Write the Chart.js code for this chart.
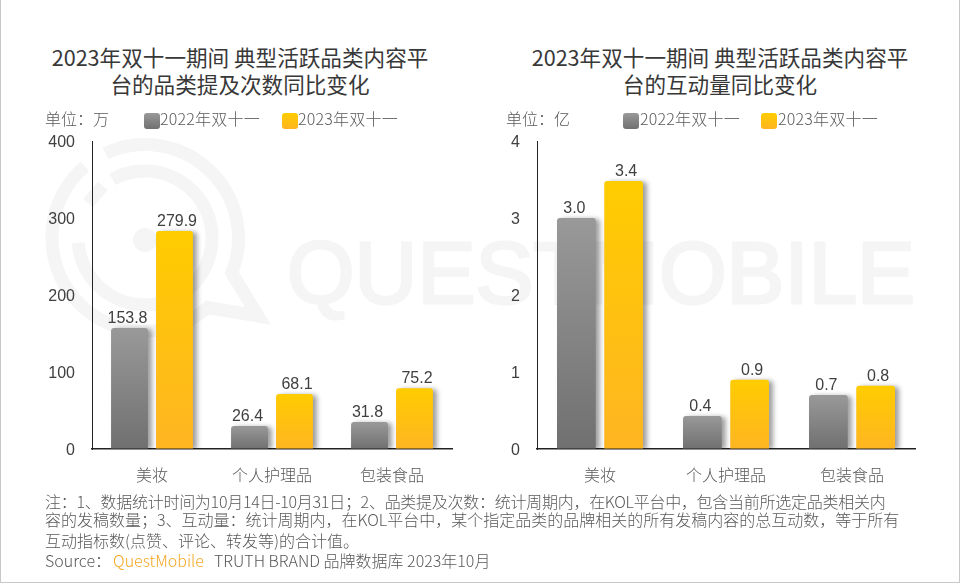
<!DOCTYPE html>
<html lang="zh">
<head>
<meta charset="utf-8">
<script src="https://cdn.jsdelivr.net/npm/chart.js@4"></script>
<style>
html,body{margin:0;padding:0;background:#fff;}
#page{position:relative;width:960px;height:585px;overflow:hidden;background:#fff;font-family:"Noto Sans CJK SC","Noto Sans",sans-serif;color:#595959;}
#frame{position:absolute;left:0;top:-2px;width:958px;height:584px;border:1px solid #c8c8c8;border-top:none;}
#wm{position:absolute;left:0;top:0;}
canvas{position:absolute;top:120px;}
.title{position:absolute;top:43px;width:440px;text-align:center;font-size:21.6px;line-height:27px;color:#383838;}
.unit,.leg{position:absolute;top:107px;font-size:16px;line-height:22px;white-space:nowrap;font-weight:300;}
.leg{letter-spacing:.2px;}
.sw{position:absolute;top:113px;width:16px;height:16px;border-radius:3px;}
.grey{background:linear-gradient(#999,#707070);}
.gold{background:linear-gradient(#ffcc00,#ffb522);}
.note{position:absolute;left:45px;font-size:16px;line-height:20px;white-space:nowrap;color:#595959;font-weight:300;}
.qm{color:#f5a623;margin:0 10px 0 2px;}
</style>
</head>
<body>
<div id="page">
<svg id="wm" width="960" height="585" fill="none" stroke="#f5f5f5" stroke-width="13">
  <path d="M105.5 153.3 A93.5 93.5 0 0 1 231.7 273 L258 316 L207.6 307.5 A93.5 93.5 0 1 1 84.9 166.4" stroke-linejoin="miter"/>
  <path d="M112.5 179.4 A67 67 0 1 1 78.2 242.7"/>
  <path d="M88 203 L103 186"/>
  <circle cx="145" cy="240" r="12" fill="#f5f5f5" stroke="none"/>
  <text x="287" y="303" font-family="Liberation Sans" font-size="87" fill="#f5f5f5" stroke="#f5f5f5" stroke-width="3" textLength="628" lengthAdjust="spacingAndGlyphs">QUESTMOBILE</text>
</svg>
<div id="frame"></div>
<canvas id="c1" style="left:0"></canvas>
<canvas id="c2" style="left:480px"></canvas>

<div class="title" style="left:20px">2023年双十一期间 典型活跃品类内容平<br>台的品类提及次数同比变化</div>
<div class="title" style="left:500px">2023年双十一期间 典型活跃品类内容平<br>台的互动量同比变化</div>

<div class="unit" style="left:45px">单位：万</div>
<div class="sw grey" style="left:144px"></div><div class="leg" style="left:160px">2022年双十一</div>
<div class="sw gold" style="left:282px"></div><div class="leg" style="left:298px">2023年双十一</div>

<div class="unit" style="left:506px">单位：亿</div>
<div class="sw grey" style="left:623px"></div><div class="leg" style="left:640px">2022年双十一</div>
<div class="sw gold" style="left:761px"></div><div class="leg" style="left:778px">2023年双十一</div>

<div class="note" style="top:491px;letter-spacing:-.27px">注：1、数据统计时间为10月14日-10月31日；2、品类提及次数：统计周期内，在KOL平台中，包含当前所选定品类相关内</div>
<div class="note" style="top:509px">容的发稿数量；3、互动量：统计周期内，在KOL平台中，某个指定品类的品牌相关的所有发稿内容的总互动数，等于所有</div>
<div class="note" style="top:530px">互动指标数(点赞、评论、转发等)的合计值。</div>
<div class="note" style="top:550px">Source：<span class="qm">QuestMobile</span>TRUTH BRAND 品牌数据库 2023年10月</div>
</div>

<script>
const categories = ['美妆', '个人护理品', '包装食品'];
const seriesNames = ['2022年双十一', '2023年双十一'];

// Bar heights as read against each axis; printed labels as shown above the bars.
const mentions2022 = [157, 30, 35];
const mentions2023 = [283, 71.4, 79];
const mentions2022Labels = ['153.8', '26.4', '31.8'];
const mentions2023Labels = ['279.9', '68.1', '75.2'];

const interact2022 = [3.0, 0.43, 0.70];
const interact2023 = [3.48, 0.9, 0.82];
const interact2022Labels = ['3.0', '0.4', '0.7'];
const interact2023Labels = ['3.4', '0.9', '0.8'];

const mentionTicks = [0, 100, 200, 300, 400];
const interactTicks = [0, 1, 2, 3, 4];

const greyStops = ['#999999', '#707070'];
const goldStops = ['#ffcc00', '#ffb522'];

function gradient(stops) {
  return function (ctx) {
    const chart = ctx.chart, y = chart.scales.y;
    if (!y || ctx.raw === undefined || !chart.chartArea) return stops[0];
    const top = y.getPixelForValue(ctx.raw), bottom = y.getPixelForValue(0);
    const g = chart.ctx.createLinearGradient(0, top, 0, bottom);
    g.addColorStop(0, stops[0]);
    g.addColorStop(1, stops[1]);
    return g;
  };
}

const barShadow = {
  id: 'barShadow',
  beforeDatasetDraw(chart) {
    const c = chart.ctx;
    c.save();
    c.shadowColor = 'rgba(0,0,0,0.38)';
    c.shadowBlur = 5;
    c.shadowOffsetX = 4;
    c.shadowOffsetY = 1;
  },
  afterDatasetDraw(chart) { chart.ctx.restore(); }
};

const valueLabels = {
  id: 'valueLabels',
  afterDatasetsDraw(chart, args, opts) {
    const c = chart.ctx;
    c.save();
    c.font = '16px "Liberation Sans"';
    c.fillStyle = '#404040';
    c.textAlign = 'center';
    c.textBaseline = 'alphabetic';
    chart.data.datasets.forEach((ds, i) => {
      chart.getDatasetMeta(i).data.forEach((bar, j) => {
        c.fillText(opts.labels[i][j], bar.x + opts.dx[i], bar.y - 5);
      });
    });
    c.restore();
  }
};

// Nudges the y tick labels down so they centre on their tick positions.
const tickNudge = {
  id: 'tickNudge',
  beforeDraw(chart) {
    const y = chart.scales.y;
    if (y.__nudged) return;
    y.__nudged = true;
    const draw = y.drawLabels;
    y.drawLabels = function (area) {
      const c = chart.ctx;
      c.save();
      c.translate(0, 1.5);
      draw.call(y, area);
      c.restore();
    };
  }
};

function makeChart(id, a, b, aLabels, bLabels, ticks, padLeft, padRight) {
  const el = document.getElementById(id);
  return new Chart(el, {
    type: 'bar',
    data: {
      labels: categories,
      datasets: [
        { label: seriesNames[0], data: a, backgroundColor: gradient(greyStops) },
        { label: seriesNames[1], data: b, backgroundColor: gradient(goldStops) }
      ]
    },
    plugins: [barShadow, valueLabels, tickNudge],
    options: {
      responsive: false,
      animation: false,
      devicePixelRatio: 1,
      layout: { padding: { left: 0, right: padRight, top: 21, bottom: 0 } },
      datasets: { bar: { categoryPercentage: 0.75, barPercentage: 0.82, borderRadius: { topLeft: 3, topRight: 3 }, borderSkipped: 'bottom' } },
      plugins: {
        legend: { display: false },
        tooltip: { enabled: false },
        valueLabels: { labels: [aLabels, bLabels], dx: [-2, 2.5] }
      },
      scales: {
        x: {
          afterFit(s) { s.height = 41; s.paddingLeft = 0; s.paddingRight = 0; },
          grid: { drawOnChartArea: false, drawTicks: false },
          border: { color: '#222', width: 1.5 },
          ticks: { padding: 16, color: '#595959', font: { size: 16, family: '"Noto Sans CJK SC"', weight: '300' }, maxRotation: 0 }
        },
        y: {
          min: ticks[0], max: ticks[ticks.length - 1],
          afterFit(s) { s.width = padLeft; s.paddingTop = 0; s.paddingBottom = 0; },
          afterBuildTicks(s) { s.ticks = ticks.map(v => ({ value: v })); },
          grid: { drawOnChartArea: false, drawTicks: false },
          border: { color: '#222', width: 1 },
          ticks: { padding: 17, color: '#404040', font: { size: 16, family: '"Liberation Sans"' } }
        }
      }
    }
  });
}

document.getElementById('c1').width = 480; document.getElementById('c1').height = 370;
document.getElementById('c2').width = 480; document.getElementById('c2').height = 370;
makeChart('c1', mentions2022, mentions2023, mentions2022Labels, mentions2023Labels, mentionTicks, 92, 28);
makeChart('c2', interact2022, interact2023, interact2022Labels, interact2023Labels, interactTicks, 57, 45);
</script>
</body>
</html>
